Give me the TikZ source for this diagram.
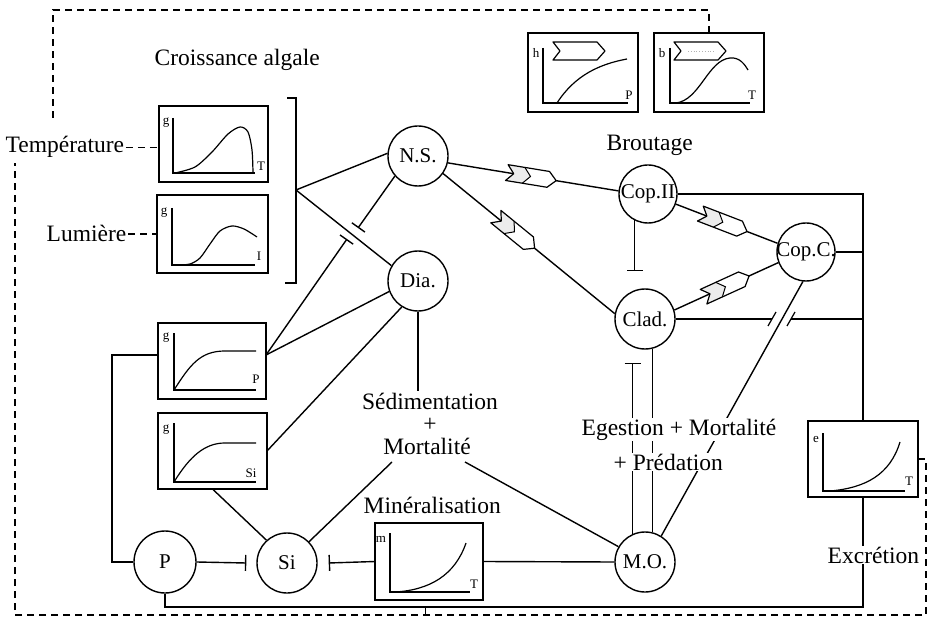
\documentclass[tikz,border=0pt]{standalone}
\usepackage{fontspec}
\setmainfont{Liberation Serif}
\usetikzlibrary{arrows.meta,calc}
\pgfdeclarelayer{bg}
\pgfsetlayers{bg,main}
\tikzset{
  circ/.style={circle,draw,minimum size=60pt,inner sep=0pt,font=\fontsize{21}{24}\selectfont},
  gbox/.style={draw,rectangle,inner sep=0pt,outer sep=0pt},
  lbl/.style={font=\fontsize{23.5}{26}\selectfont,inner sep=1pt},
  wlbl/.style={lbl,fill=white},
  axl/.style={line width=1.2pt},
  glab/.style={font=\fontsize{13}{14}\selectfont,inner sep=0pt},
  inh/.style={-{Bar[width=16pt,line width=1.4pt]}},
  dsh/.style={dash pattern=on 7pt off 5pt,line width=1.6pt},
  graze/.pic={
    \fill[white] (-25,8) -- (17,8) -- (25,0) -- (17,-8) -- (-25,-8) -- (-18,0) -- cycle;
    \fill[gray!15] (-25,8) -- (-8,8) -- (-1,0) -- (-8,-8) -- (-25,-8) -- (-18,0) -- cycle;
    \draw[line width=1.2pt,line join=round] (-25,8) -- (17,8) -- (25,0) -- (17,-8) -- (-25,-8) -- (-18,0) -- cycle;
    \draw[line width=1pt] (-8,8) -- (-1,0) -- (-8,-8);
  },
  grazeplain/.pic={
    \fill[white] (-26,9) -- (18,9) -- (26,0) -- (18,-9) -- (-26,-9) -- (-19,0) -- cycle;
    \draw[line width=1.2pt,line join=round] (-26,9) -- (18,9) -- (26,0) -- (18,-9) -- (-26,-9) -- (-19,0) -- cycle;
  },
  grazedot/.pic={
    \fill[white] (-26,9) -- (18,9) -- (26,0) -- (18,-9) -- (-26,-9) -- (-19,0) -- cycle;
    \draw[gray!60,line width=0.8pt,dotted] (-12,0) -- (14,0);
    \draw[line width=1.2pt,line join=round] (-26,9) -- (18,9) -- (26,0) -- (18,-9) -- (-26,-9) -- (-19,0) -- cycle;
  }
}
\begin{document}
\begin{tikzpicture}[x=1pt,y=-1pt,line width=1.4pt]
\useasboundingbox (0,0) rectangle (929,620);

% ---- circle nodes
\node[circ] (NS) at (418,156) {\makebox[0pt]{N.S.}};
\node[circ] (Dia) at (418,281) {\makebox[0pt]{Dia.}};
\node[circ,minimum size=58pt] (CopII) at (648,194) {\makebox[0pt]{Cop.II}};
\node[circ,minimum size=58pt] (CopC) at (806,252) {\makebox[0pt]{Cop.C.}};
\node[circ] (Clad) at (645,319) {\makebox[0pt]{Clad.}};
\node[circ] (MO) at (645,562) {\makebox[0pt]{M.O.}};
\node[circ,minimum size=62pt] (P) at (165,562) {\makebox[0pt]{P}};
\node[circ] (Si) at (287,563) {\makebox[0pt]{Si}};

% ---- graph boxes
\node[gbox,minimum width=109pt,minimum height=76pt] (gT) at (213.5,144) {};
\node[gbox,minimum width=111pt,minimum height=78pt] (gI) at (212.5,234) {};
\node[gbox,minimum width=108pt,minimum height=76pt] (gP) at (212,361) {};
\node[gbox,minimum width=109pt,minimum height=76pt] (gSi) at (212.5,451) {};
\node[gbox,minimum width=108pt,minimum height=77pt] (mT) at (429,561.5) {};
\node[gbox,minimum width=110pt,minimum height=76pt] (eT) at (863,459) {};
\node[gbox,minimum width=110pt,minimum height=79pt] (hP) at (583,72.5) {};
\node[gbox,minimum width=110pt,minimum height=79pt] (bT) at (709,72.5) {};

% ---- graph contents
\draw[axl] (173,118) -- (173,173) -- (255,173);
\draw[axl] plot[smooth] coordinates {(175,173) (195,167) (212,152) (228,134) (240,127) (248,132) (252,150) (253,173)};
\node[glab] (gTg) at (166,123) {g};
\node[glab] (gTx) at (261,166) {T};

\draw[axl] (172,208) -- (172,265) -- (255,265);
\draw[axl] plot[smooth] coordinates {(178,265) (190,264) (200,258) (210,244) (220,231) (232,226) (244,229) (257,237)};
\node[glab] (gIg) at (164,213) {g};
\node[glab] (gIx) at (259,256) {I};

\draw[axl] (174,333) -- (174,390) -- (256,390);
\draw[axl] (174,390) .. controls (190,365) and (200,351) .. (225,351) -- (256,351);
\node[glab] (gPg) at (166,338) {g};
\node[glab] (gPx) at (256,379) {P};

\draw[axl] (174,423) -- (174,482) -- (256,482);
\draw[axl] (174,482) .. controls (190,456) and (205,443) .. (225,443) -- (256,443);
\node[glab] (gSig) at (166,430) {g};
\node[glab] (gSix) at (251,473) {Si};

\draw[axl] (390,533) -- (390,592) -- (470,592);
\draw[axl] (395,592) .. controls (430,590) and (455,575) .. (466,543);
\node[glab] (mTm) at (381,539) {m};
\node[glab] (mTx) at (474,584) {T};

\draw[axl] (823,433) -- (823,491) -- (905,491);
\draw[axl] (830,491) .. controls (865,488) and (890,475) .. (900,442);
\node[glab] (eTe) at (816,439) {e};
\node[glab] (eTx) at (909,481) {T};

\draw[axl] (543,48) -- (543,103) -- (628,103);
\draw[axl] (557,103) .. controls (575,75) and (600,64) .. (627,59);
\node[glab] (hPh) at (536,53) {h};
\node[glab] (hPx) at (629,95) {P};
\pic at (579,51) {grazeplain};

\draw[axl] (670,48) -- (670,103) -- (750,103);
\draw[axl] (676,103) .. controls (700,100) and (708,60) .. (730,58) .. controls (740,57) and (745,65) .. (748,70);
\node[glab] (bTb) at (662,53) {b};
\node[glab] (bTx) at (752,95) {T};
\pic at (700,51) {grazedot};

% ---- text labels
\node[lbl,anchor=base west] (crois) at (153,66) {Croissance algale};
\node[lbl,anchor=base west] (temp) at (4,153) {Température};
\node[lbl,anchor=base west] (lum) at (45,242) {Lumière};
\node[lbl,anchor=base west] (brout) at (605,151) {Broutage};
\node[wlbl,anchor=base] (sed) at (430,409) {Sédimentation};
\node[wlbl,anchor=base] (plus) at (430,431) {+};
\node[wlbl,anchor=base] (mort) at (427,454) {Mortalité};
\node[wlbl,anchor=base west] (mine) at (362,513) {Minéralisation};
\node[wlbl,anchor=base west] (egm) at (580,435) {Egestion + Mortalité};
\node[wlbl,anchor=base west] (pred) at (612,470) {+ Prédation};
\node[wlbl,anchor=base west] (exc) at (826,563) {Excrétion};

% ---- coordinates
\coordinate (J) at (296,190);
\coordinate (b1) at (358,228);
\coordinate (b2) at (347,239);
\coordinate (b3) at (0,363);
\coordinate (b4) at (0,271);
\coordinate (m1) at (392,462);
\coordinate (m2) at (465,462);
\coordinate (pl) at (112,355);
\coordinate (bl) at (0,607);
\coordinate (tk1) at (425,607);
\coordinate (tk2) at (425,615);
\coordinate (g1) at (772,319);
\coordinate (g2) at (791,319);
\coordinate (dR) at (926,615);
\coordinate (dL) at (15,615);
\coordinate (dLt) at (15,163);
\coordinate (dT1) at (53,118);
\coordinate (dT2) at (53,10);
\coordinate (br1) at (287,98);
\coordinate (br2) at (296,98);
\coordinate (br3) at (296,283);
\coordinate (br4) at (285,283);

\begin{pgfonlayer}{bg}
\begin{scope}[line width=1.4pt]
% bracket
\draw (br1) -- (br2) -- (br3) -- (br4);
\draw (J) -- (NS.175);
\draw (J) -- (Dia.150);
\draw[inh] (NS.221) -- (b1);
\draw[inh] ([yshift=6pt]gP.east) -- (b2);
\draw ([yshift=6pt]gP.east) -- (Dia.200);
\draw (gSi.east) -- (Dia.238);
\draw (gSi.south) -- (Si.132);
\draw (Dia.south) -- (Dia.south |- sed.north);
\draw (Si.44) -- (m1);
\draw (MO.150) -- (m2);
% P / Si / mineralisation
\draw[inh] (P.east) -- ([xshift=-10pt]Si.west);
\draw[inh] (mT.west) -- ([xshift=11pt]Si.east);
\draw (MO.west) -- (mT.east);
\draw (P.west) -| (pl) -- ([yshift=6pt]gP.west);
\draw (P.south) -- (P.south |- bl) -- (eT.south |- bl) -- (eT.south);
\draw[line width=1pt] (tk1) -- (tk2);
% grazing links
\draw (NS.-13) -- (CopII.174);
\draw (NS.-35) -- (Clad.170);
\draw (CopII.-20) -- (CopC.163);
\draw (Clad.17) -- (CopC.-159);
% right side
\draw (CopII.east) -- (CopII.east -| eT.north) -- (eT.north);
\draw (CopC.east) -- (CopC.east -| eT.north);
\draw (Clad.east) -- (g1);
\draw (g2) -- (Clad.east -| eT.north);
\draw[line width=1.2pt] ([shift={(-4,7)}]g1) -- ([shift={(4,-7)}]g1);
\draw[line width=1.2pt] ([shift={(-4,7)}]g2) -- ([shift={(4,-7)}]g2);
\draw (CopC.-96) -- (MO.58);
\draw (Clad.-76) -- (MO.76);
\draw[inh] (MO.114) -- (MO.114 |- b3);
\draw[inh] (CopII.-117) -- (CopII.-117 |- b4);
% dashed frame
\draw[dsh] (eT.east) -| (dR) -- (dL) -- (dLt);
\draw[dsh] (dT1) -- (dT2) -| (bT.north);
\draw[dsh] (temp.east) -- (temp.east -| gT.west);
\draw[dsh] (lum.east) -- (lum.east -| gI.west);
\end{scope}
\end{pgfonlayer}

% grazing symbols
\path (NS.-13) -- (CopII.174) pic[pos=0.49,sloped]{graze};
\path (NS.-35) -- (Clad.170) pic[pos=0.42,sloped]{graze};
\path (CopII.-20) -- (CopC.163) pic[pos=0.47,sloped]{graze};
\path (Clad.17) -- (CopC.-159) pic[pos=0.5,sloped]{graze};
\end{tikzpicture}
\end{document}
